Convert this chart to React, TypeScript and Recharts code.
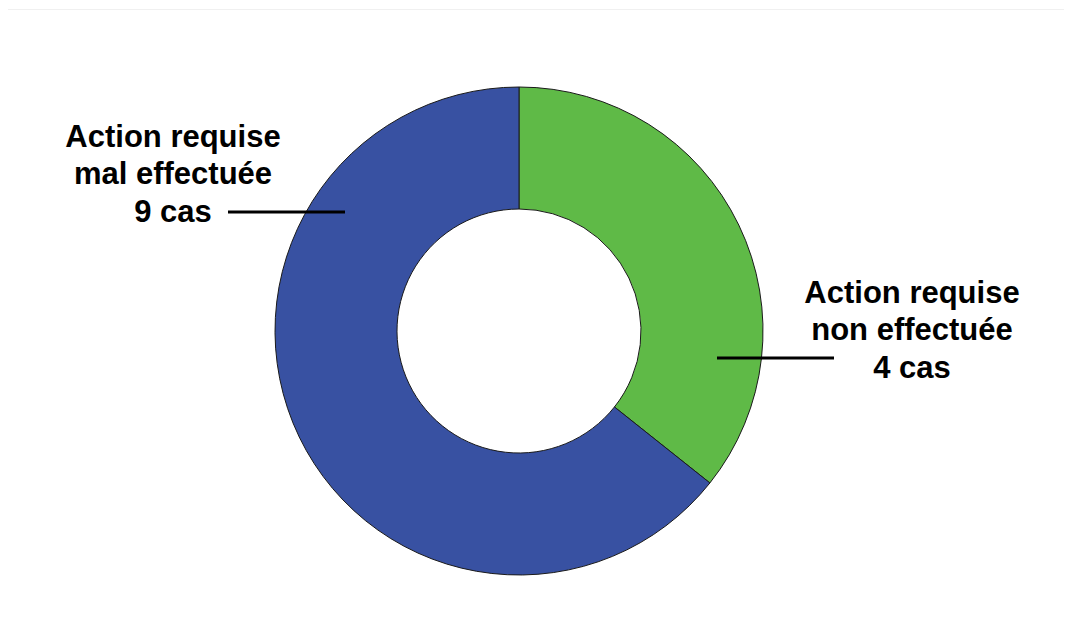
import { PieChart, Pie, Cell } from "recharts";

// ordre de tracé : sens horaire depuis midi
const categories = ["Action requise non effectuée", "Action requise mal effectuée"];
const caseCounts = [4, 9];
// parts telles que dessinées sur l'image (en %)
const drawnShares = [35.7, 64.3];
const colors = ["#5fba47", "#3851a2"];

const data = categories.map((name, i) => ({
    name,
    cases: caseCounts[i],
    value: drawnShares[i],
}));

const FONT = "'Liberation Sans', Arial, sans-serif";

function renderLabel(props: any) {
    const {cx, cy, index} = props;
    const [line1, line2] = categories[index].split(/ (?=non|mal)/);
    const casText = `${caseCounts[index]} cas`;
    const textStyle = {fontFamily: FONT, fontWeight: 700, fontSize: 31, fill: "#000"};
    if (index === 1) {
        // à gauche
        const tx = cx - 346;
        return (
            <g>
                <text x={tx} y={cy - 184} textAnchor="middle" style={textStyle}>{line1}</text>
                <text x={tx} y={cy - 147} textAnchor="middle" style={textStyle}>{line2}</text>
                <text x={tx} y={cy - 109} textAnchor="middle" style={textStyle}>{casText}</text>
                <line x1={cx - 291} y1={cy - 119} x2={cx - 174} y2={cy - 119} stroke="#000" strokeWidth={3} />
            </g>
        );
    }
    const tx = cx + 393;
    return (
        <g>
            <text x={tx} y={cy - 28} textAnchor="middle" style={textStyle}>{line1}</text>
            <text x={tx} y={cy + 9} textAnchor="middle" style={textStyle}>{line2}</text>
            <text x={tx} y={cy + 47} textAnchor="middle" style={textStyle}>{casText}</text>
            <line x1={cx + 198} y1={cy + 27} x2={cx + 315} y2={cy + 27} stroke="#000" strokeWidth={3} />
        </g>
    );
}

export default function App() {
    return (
        <div
            style={{
                width: 1062,
                height: 632,
                margin: "1px 0 0 -5px",
                border: "1px solid #f0f0f0",
                background: "#fff",
            }}
        >
            <PieChart width={1062} height={632}>
                <Pie
                    data={data}
                    dataKey="value"
                    cx={510}
                    cy={316}
                    innerRadius={122}
                    outerRadius={244}
                    startAngle={90}
                    endAngle={-270}
                    stroke="#1a1a1a"
                    strokeWidth={1}
                    label={renderLabel}
                    labelLine={false}
                    isAnimationActive={false}
                >
                    {data.map((d, i) => (
                        <Cell key={d.name} fill={colors[i]} />
                    ))}
                </Pie>
            </PieChart>
        </div>
    );
}
